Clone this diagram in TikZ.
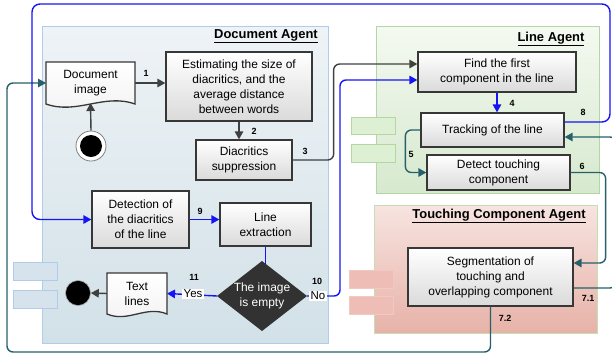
\documentclass[tikz,border=0pt]{standalone}
\usepackage{fontspec}
\setmainfont{Liberation Sans}
\usetikzlibrary{arrows.meta,calc}
\definecolor{bluec}{RGB}{20,20,245}
\definecolor{tealc}{RGB}{38,96,106}
\definecolor{darkc}{RGB}{64,64,64}
\definecolor{boxline}{RGB}{55,55,55}
\definecolor{boxbot}{RGB}{218,218,218}
\definecolor{docTop}{RGB}{238,243,246}
\definecolor{docBot}{RGB}{210,225,232}
\definecolor{docEdge}{RGB}{176,204,236}
\definecolor{docSide}{RGB}{214,227,236}
\definecolor{lineTop}{RGB}{244,249,241}
\definecolor{lineBot}{RGB}{214,233,206}
\definecolor{lineEdge}{RGB}{180,214,162}
\definecolor{lineSide}{RGB}{222,240,212}
\definecolor{touchTop}{RGB}{247,228,224}
\definecolor{touchBot}{RGB}{231,178,168}
\definecolor{touchEdge}{RGB}{198,222,182}
\definecolor{touchSide}{RGB}{238,190,182}
\definecolor{touchSideEdge}{RGB}{242,200,192}
\definecolor{diafill}{RGB}{50,50,50}
\begin{document}
\begin{tikzpicture}[x=1bp,y=-1bp,
  box/.style={draw=boxline, line width=1.3bp, top color=white, bottom color=boxbot, align=center, font=\fontsize{12}{15}\selectfont, inner sep=1bp},
  ghost/.style={inner sep=0pt, outer sep=0pt},
  txt/.style={align=center, font=\fontsize{12}{15}\selectfont, inner sep=0pt},
  docshade/.style={draw=boxline, line width=1.3bp, top color=white, bottom color=gray!10},
  num/.style={font=\bfseries\fontsize{9}{10}\selectfont, inner sep=0pt},
  title/.style={font=\bfseries\fontsize{13}{15}\selectfont, inner sep=0pt},
  tag/.style={fill=white, inner sep=1.2bp, font=\fontsize{11.5}{13}\selectfont},
  tip/.style={-{Triangle[length=8bp,width=8.5bp]}},
  barr/.style={draw=bluec, line width=1.4bp, tip},
  bline/.style={draw=bluec, line width=1.4bp},
  tarr/.style={draw=tealc, line width=1.4bp, tip},
  darr/.style={draw=darkc, line width=1.4bp, tip},
]
\useasboundingbox (0,0) rectangle (612,356);
% panels
\shade[top color=docTop, bottom color=docBot, draw=docEdge, line width=1bp] (42,26) rectangle (328,343);
\shade[top color=lineTop, bottom color=lineBot, draw=lineEdge, line width=1bp] (376,26) rectangle (599,193);
\shade[top color=touchTop, bottom color=touchBot, draw=touchEdge, line width=1bp] (374,205) rectangle (597,333);
% side tabs
\draw[fill=docSide, draw=docEdge, line width=1bp] (13,262) rectangle (57,280);
\draw[fill=docSide, draw=docEdge, line width=1bp] (13,290) rectangle (57,308);
\draw[fill=lineSide, draw=lineEdge, line width=1bp] (351,117) rectangle (395,134);
\draw[fill=lineSide, draw=lineEdge, line width=1bp] (351,144) rectangle (395,162);
\draw[fill=touchSide, draw=touchSideEdge, line width=1bp] (349,270) rectangle (393,288);
\draw[fill=touchSide, draw=touchSideEdge, line width=1bp] (349,296) rectangle (393,314);
% titles
\node[title] (tdoc) at (266,36) {\underline{Document Agent}};
\node[title] (tline) at (551,39) {\underline{Line Agent}};
\node[title] (ttouch) at (499,216) {\underline{Touching Component Agent}};

% node anchors (placed first)
\node[ghost, minimum width=89bp, minimum height=42bp] (docimg) at (90.5,83) {};
\node[ghost, minimum width=60bp, minimum height=41bp] (textl) at (137,293.5) {};
\node[ghost, minimum width=90bp, minimum height=70bp] (dia) at (262,296) {};
\node[circle, fill=white, draw=gray, line width=0.8bp, minimum size=30bp, inner sep=0pt] (start) at (91,146) {};
\node[circle, fill=black, draw=gray!70, line width=0.6bp, minimum size=25bp, inner sep=0pt] (endc) at (78,293) {};
\fill[black] (start) circle (11bp);

\node[box, minimum width=146bp, minimum height=69bp] (est) at (239,86.5) {Estimating the size of\\diacritics, and the\\average distance\\between words};
\node[box, minimum width=96bp, minimum height=40bp] (supp) at (244,160) {Diacritics\\suppression};
\node[box, minimum width=158bp, minimum height=40bp] (find) at (497,72) {Find the first\\component in the line};
\node[box, minimum width=143bp, minimum height=34bp] (track) at (492.5,130) {Tracking of the line};
\node[box, minimum width=143bp, minimum height=35bp] (detect) at (498.5,172.5) {Detect touching\\component};
\node[box, minimum width=165bp, minimum height=58bp] (seg) at (490.5,277) {Segmentation of\\touching and\\overlapping component};
\node[box, minimum width=97bp, minimum height=57bp] (detd) at (140.5,219.5) {Detection of\\the diacritics\\of the line};
\node[box, minimum width=91bp, minimum height=43bp] (lext) at (265.5,224.5) {Line\\extraction};

% connectors
\draw[darr] (docimg.east) -- (est.west |- docimg.east);
\node[num] (n1) at (146,73) {1};
\draw[darr] (start.north) -- ([yshift=1bp]docimg.south);
\draw[darr] (est.south) -- (est.south |- supp.north);
\node[num] (n2) at (254,131) {2};
\draw[darr, rounded corners=6bp] (supp.east) -- ++(41,0) |- ([yshift=8bp]find.west);
\node[num] (n3) at (305,151) {3};
\draw[barr] (find.south) -- (find.south |- track.north);
\node[num] (n4) at (512,103) {4};
\draw[tarr, rounded corners=6bp] (track.west) -- ++(-15,0) |- (detect.west);
\node[num] (n5) at (411,154) {5};
\draw[tarr, rounded corners=6bp] (detect.east) -- ++(35,0) |- ([yshift=14bp]seg.east);
\node[num] (n6) at (582,166) {6};
\draw[tarr, rounded corners=6bp] ([yshift=-11bp]seg.east) -- (616,288) |- ([yshift=-7bp]track.east);
\node[num] (n71) at (588,298) {7.1};
\draw[tarr, rounded corners=6bp] (seg.south) |- (7,352) |- (docimg.west);
\node[num] (n72) at (505,318) {7.2};
\draw[barr, rounded corners=8bp] ([yshift=8bp]track.east) -| (610,4) -| (32,219.5) -- (detd.west);
\node[num] (n8) at (583,112) {8};
\draw[barr] (detd.east) -- (lext.west |- detd.east);
\node[num] (n9) at (200,211) {9};
\draw[bline] (lext.south) -- (lext.south |- dia.center);
\draw[barr, rounded corners=6bp] (dia.east) -- (340,296) |- ([yshift=-8bp]find.west);
\draw[barr] (dia.west) -- (textl.east);
\draw[darr] (textl.west) -- (endc.east);

% diamond
\fill[diafill] (dia.north) -- (dia.east) -- (dia.south) -- (dia.west) -- cycle;
\node[txt, text=white] (diat) at (dia) {The image\\is empty};
\node[tag] (yes) at (193,294) {Yes};
\node[num] (n11) at (194,277) {11};
\node[tag] (no) at (318,296) {No};
\node[num] (n10) at (317,281) {10};

% document shapes
\shade[docshade] (docimg.south east) -- (docimg.north east) -- (docimg.north west) -- (docimg.south west)
  .. controls ($(docimg.south west)!0.35!(docimg.south east)+(0,11)$) and ($(docimg.south west)!0.65!(docimg.south east)+(0,-11)$) .. cycle;
\node[txt] (docimgt) at (docimg) {Document\\image};
\shade[docshade] (textl.south east) -- (textl.north east) -- (textl.north west) -- (textl.south west)
  .. controls ($(textl.south west)!0.35!(textl.south east)+(0,9)$) and ($(textl.south west)!0.65!(textl.south east)+(0,-9)$) .. cycle;
\node[txt] (textlt) at (textl) {Text\\lines};
\end{tikzpicture}
\end{document}
